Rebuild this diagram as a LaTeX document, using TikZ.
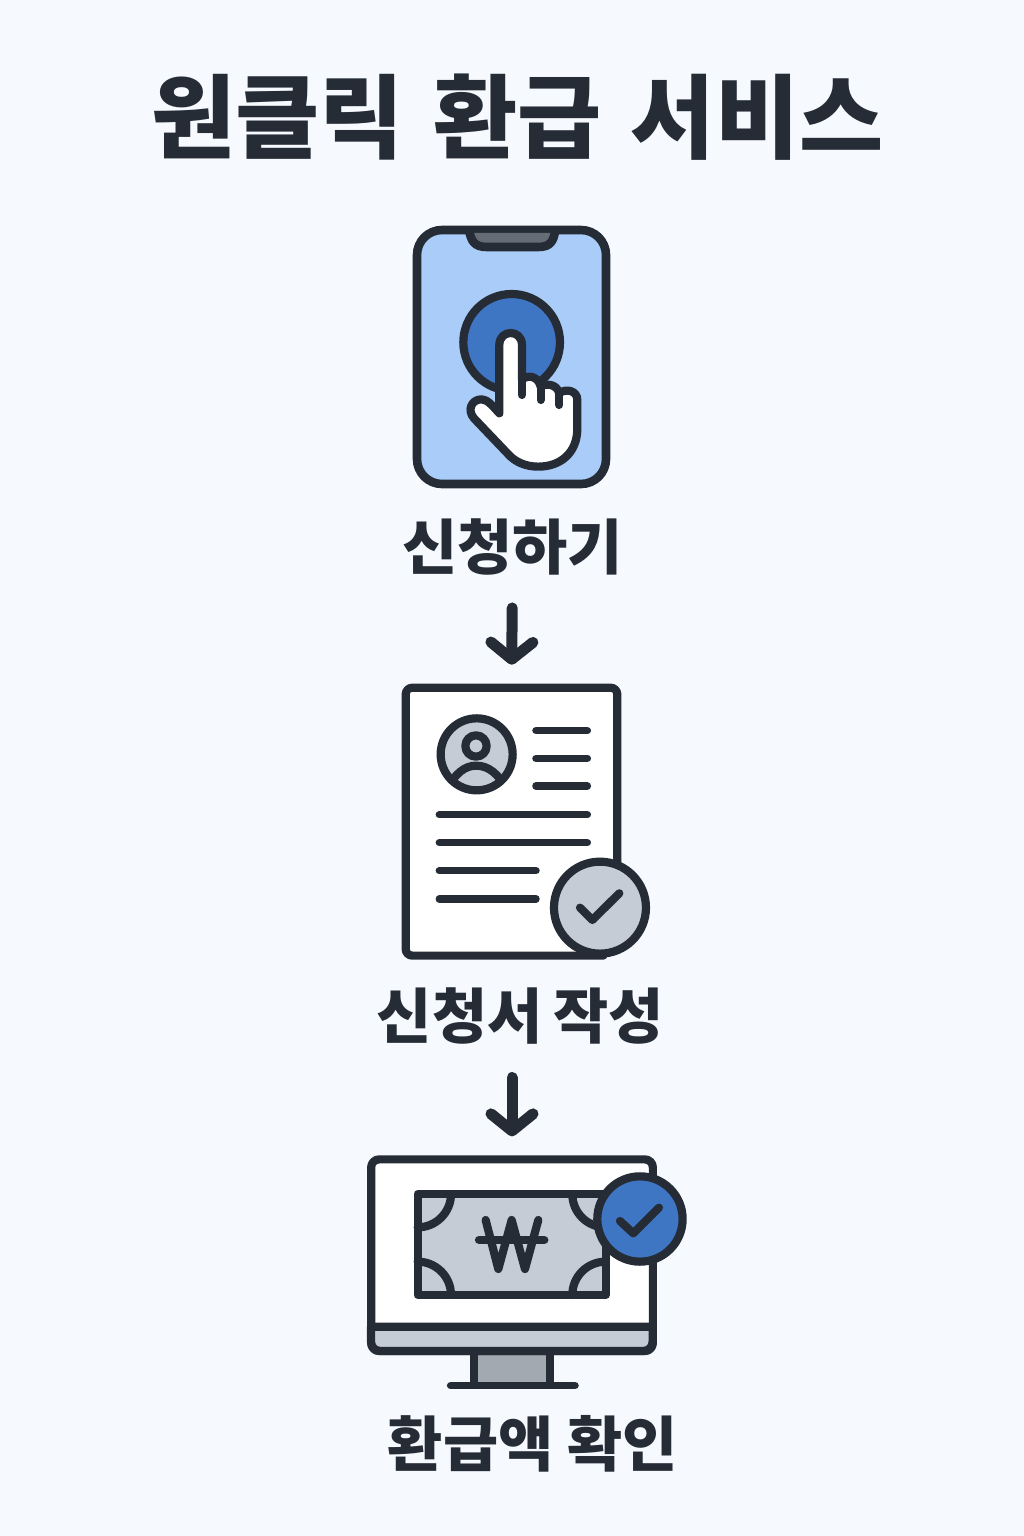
\documentclass[tikz,border=0pt]{standalone}
\usepackage{fontspec}
\usetikzlibrary{arrows.meta}
\newfontfamily\krfont{Noto Sans CJK KR}
\newfontfamily\krtitle{Noto Sans CJK KR}[WordSpace=1.4]
\definecolor{ink}{HTML}{262C36}
\definecolor{bgpage}{HTML}{F6FAFF}
\definecolor{phonefill}{HTML}{A9CCF8}
\definecolor{bluefill}{HTML}{3F76C4}
\definecolor{greyfill}{HTML}{C5CCD6}
\definecolor{darkgrey}{HTML}{A3A9B0}
\definecolor{notchfill}{HTML}{656C76}
\tikzset{
  lab/.style={font=\krfont\bfseries\fontsize{60}{64}\selectfont,text=ink,anchor=base,inner sep=0pt},
  ttl/.style={font=\krtitle\bfseries\fontsize{91.5}{96}\selectfont,text=ink,anchor=base,inner sep=0pt},
  frame/.style={draw=ink,line width=8.2pt,outer sep=0pt,inner sep=0pt,line join=round},
  ol/.style={draw=ink,line width=8.2pt,line join=round,line cap=round},
  rule/.style={draw=ink,line width=7.5pt,line cap=round},
  flow/.style={draw=ink,line width=11pt,line cap=round,-{Straight Barb[length=17pt,width=42pt,round]}},
  zoomA/.style={shift={(400,215)},x=0.3333pt,y=-0.3333pt},
  zoomB/.style={shift={(390,675)},x=0.3333pt,y=-0.3333pt},
  zoomC/.style={shift={(355,1145)},x=0.3333pt,y=-0.3333pt},
}
\begin{document}
\begin{tikzpicture}[x=1pt,y=-1pt]
\useasboundingbox (0,0) rectangle (1024,1536);
\fill[bgpage] (0,0) rectangle (1024,1536);
\node[ttl] (title) at (517.5,151) {원클릭 환급 서비스};

% phone
\node[frame,line width=8.6pt,fill=phonefill,rounded corners=25pt,minimum width=189pt,minimum height=254pt] (phone) at (511.5,357) {};
\begin{scope}[zoomA]
  \fill[notchfill] (205,54) .. controls (212,85) and (225,96) .. (260,96) -- (415,96) .. controls (450,96) and (462,85) .. (468,54) -- cycle;
  \draw[ol,line width=8.6pt,line cap=butt] (207,42) .. controls (212,80) and (225,96) .. (260,96) -- (415,96) .. controls (450,96) and (462,80) .. (466,42);
  \draw[ol,fill=bluefill] (335,382) circle (145);
  \draw[ol,fill=white] (298,595) -- (298,390) .. controls (298,342) and (366,342) .. (366,390) -- (366,495)
    .. controls (380,478) and (415,482) .. (422,515)
    .. controls (435,505) and (470,505) .. (478,535)
    .. controls (495,520) and (532,525) .. (532,555)
    -- (532,640) .. controls (532,715) and (480,755) .. (415,755)
    .. controls (375,755) and (345,740) .. (325,718)
    -- (222,610) .. controls (200,585) and (215,553) .. (245,553)
    .. controls (262,553) and (280,575) .. (298,595) -- cycle;
  \draw[ol] (366,495) -- (366,540);
  \draw[ol] (422,515) -- (422,555);
  \draw[ol] (478,535) -- (478,570);
\end{scope}
\node[lab] (lab1) at (512.5,569) {신청하기};

% document
\node[outer sep=0pt,inner sep=0pt,minimum width=211.6pt,minimum height=268pt] (doc) at (511.5,821.7) {};
\begin{scope}[zoomB]
  \draw[ol,fill=white] (682,570) -- (682,58) arc (0:-90:20) -- (67,38) arc (-90:-180:20) -- (47,822) arc (180:90:20) -- (640,842);
  \begin{scope}
    \clip (260,238) circle (108);
    \fill[greyfill] (260,238) circle (108);
    \draw[ol,fill=greyfill] (258,213) circle (32);
    \draw[ol,fill=greyfill] (170,345) .. controls (195,295) and (225,272) .. (258,272) .. controls (295,272) and (325,295) .. (350,345);
  \end{scope}
  \draw[ol] (260,238) circle (108);
  \draw[rule] (438,167) -- (592,167);
  \draw[rule] (438,250) -- (592,250);
  \draw[rule] (438,333) -- (592,333);
  \draw[rule] (148,419) -- (592,419);
  \draw[rule] (148,503) -- (592,503);
  \draw[rule] (148,587) -- (438,587);
  \draw[rule] (148,672) -- (438,672);
  \draw[ol,fill=greyfill] (630,698) circle (138);
  \draw[ol] (570,698) -- (607,735) -- (688,655);
\end{scope}
\node[lab] (lab2) at (520.5,1038.5) {신청서 \hspace{-8pt}작성};

% monitor
\begin{scope}[zoomC]
  \fill[darkgrey] (358,618) rectangle (585,722);
  \draw[ol,line cap=butt] (358,618) -- (358,722);
  \draw[ol,line cap=butt] (585,618) -- (585,722);
  \draw[draw=ink,line width=7.6pt,line cap=round] (287,722) -- (660,722);
\end{scope}
\node[frame,fill=white,rounded corners=8pt,minimum width=281.7pt,minimum height=191.7pt] (mon) at (512,1255.2) {};
\begin{scope}[zoomC]
  \draw[ol,fill=greyfill] (48,545) -- (893,545) -- (893,590) arc (0:90:28) -- (76,618) arc (90:180:28) -- cycle;
  \draw[ol,fill=greyfill] (188,147) rectangle (752,450);
  \draw[ol] (288,147) arc (0:90:100);
  \draw[ol] (188,350) arc (-90:0:100);
  \draw[ol] (652,450) arc (180:270:100);
  \draw[ol] (652,147) arc (180:90:100);
  \draw[ol] (392,225) -- (430,372) -- (470,225) -- (510,372) -- (550,225);
  \draw[ol] (372,285) -- (568,285);
  \draw[ol,fill=bluefill] (855,222) circle (128);
  \draw[ol] (795,228) -- (835,265) -- (912,188);
\end{scope}
\node[lab] (lab3) at (533,1466) {환급액 \hspace{-5pt}확인};

\draw[flow,shorten <=33pt,shorten >=23pt] (lab1.south) -- (doc.north);
\draw[flow,shorten <=33pt,shorten >=23pt] (lab2.south -| mon.north) -- (mon.north);
\end{tikzpicture}
\end{document}
